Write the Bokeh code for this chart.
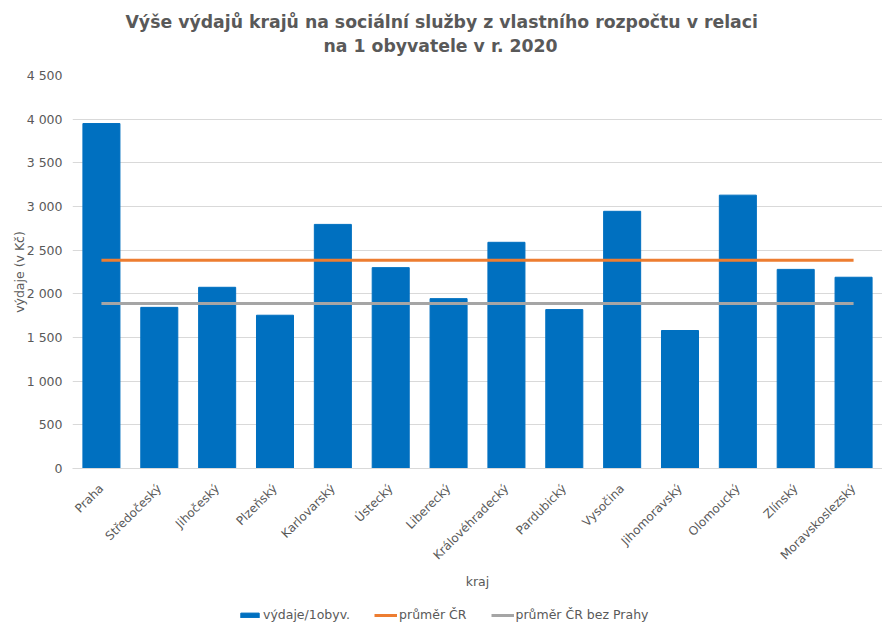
import math
from bokeh.plotting import figure
from bokeh.layouts import column
from bokeh.models import FixedTicker, Legend, LegendItem, ColumnDataSource, Title, Range1d
from bokeh.embed import file_html
from bokeh.resources import INLINE

kraje = ["Praha", "Středočeský", "Jihočeský", "Plzeňský", "Karlovarský", "Ústecký",
         "Liberecký", "Královéhradecký", "Pardubický", "Vysočina", "Jihomoravský",
         "Olomoucký", "Zlínský", "Moravskoslezský"]
vydaje = [3950, 1845, 2075, 1755, 2795, 2300, 1945, 2590, 1820, 2945, 1580, 3130, 2280, 2190]
prumer_cr = 2385
prumer_cr_bez_prahy = 1890
y_ticks = [0, 500, 1000, 1500, 2000, 2500, 3000, 3500, 4000, 4500]
y_tick_labels = ["0", "500", "1 000", "1 500", "2 000", "2 500", "3 000", "3 500", "4 000", "4 500"]
title_lines = ["Výše výdajů krajů na sociální služby z vlastního rozpočtu v relaci",
               "na 1 obyvatele v r. 2020"]
legend_labels = ["výdaje/1obyv.", "průměr ČR", "průměr ČR bez Prahy"]

FONT = "DejaVu Sans"
TXT = "#595959"
BLUE = "#0070C0"
ORANGE = "#ED7D31"
GREY = "#A5A5A5"

src = ColumnDataSource(dict(
    kraj=kraje,
    vydaje=vydaje,
    prumer=[prumer_cr] * len(kraje),
    prumer_bez=[prumer_cr_bez_prahy] * len(kraje),
))

LEG_H = 30
p = figure(x_range=kraje, y_range=(0, 4500), width=882, height=628 - LEG_H, title=None,
           output_backend="svg", toolbar_location=None,
           min_border_left=72, min_border_right=0, min_border_top=75,
           min_border_bottom=628 - LEG_H - 468)

# spacer between the frame and the title lines
p.add_layout(Title(text=" ", text_font_size="1px", standoff=16), "above")
# each title line is centred on the whole chart width (left-aligned + shift)
for text, standoff, shift in [(title_lines[1], 2, 251), (title_lines[0], 2, 53)]:
    t = Title(text=text, align="left", offset=shift, text_font=FONT, text_font_size="17.3px",
              text_font_style="bold", text_color=TXT, standoff=standoff)
    p.add_layout(t, "above")

p.vbar(x="kraj", top="vydaje", width=0.64, source=src, color=BLUE)
p.line(x="kraj", y="prumer", source=src, line_color=ORANGE, line_width=3)
p.line(x="kraj", y="prumer_bez", source=src, line_color=GREY, line_width=3)

p.x_range.range_padding = 0
p.outline_line_color = None
p.xgrid.grid_line_color = None
p.ygrid.grid_line_color = "#D9D9D9"
p.ygrid.grid_line_width = 1

p.yaxis.ticker = FixedTicker(ticks=y_ticks)
p.yaxis.major_label_overrides = {t: l for t, l in zip(y_ticks, y_tick_labels)}
p.yaxis.axis_line_color = None
p.yaxis.major_tick_line_color = None
p.yaxis.minor_tick_line_color = None
p.yaxis.major_label_text_font = FONT
p.yaxis.major_label_text_font_size = "12.5px"
p.yaxis.major_label_text_color = TXT
p.yaxis.major_label_standoff = 4
p.yaxis.axis_label = "výdaje (v Kč)"
p.yaxis.axis_label_text_font = FONT
p.yaxis.axis_label_text_font_size = "12.5px"
p.yaxis.axis_label_text_font_style = "normal"
p.yaxis.axis_label_text_color = TXT
p.yaxis.axis_label_standoff = -3

p.xaxis.axis_line_color = "#D9D9D9"
p.xaxis.major_tick_line_color = None
p.xaxis.minor_tick_line_color = None
p.xaxis.major_label_orientation = math.pi / 4
p.xaxis.major_label_text_font = FONT
p.xaxis.major_label_text_font_size = "12px"
p.xaxis.major_label_text_color = TXT
p.xaxis.major_label_standoff = 12
p.xaxis.axis_label = "kraj"
p.xaxis.axis_label_text_font = FONT
p.xaxis.axis_label_text_font_size = "12.5px"
p.xaxis.axis_label_text_font_style = "normal"
p.xaxis.axis_label_text_color = TXT
p.xaxis.axis_label_standoff = 4

# legend strip (its frame is aligned with the main frame, which starts at x=72)
lg = figure(width=882, height=LEG_H, x_range=Range1d(0, 810), y_range=Range1d(0, LEG_H),
            output_backend="svg", toolbar_location=None, title=None,
            min_border=0, min_border_left=72, min_border_right=0,
            min_border_top=0, min_border_bottom=0)
lg.axis.visible = False
lg.grid.visible = False
lg.outline_line_color = None
nan = float("nan")
dummy = ColumnDataSource(dict(x=[nan], y=[nan], top=[nan]))
r_bar = lg.vbar(x="x", top="top", width=1, source=dummy, color=BLUE)
r_l1 = lg.line(x="x", y="y", source=dummy, line_color=ORANGE, line_width=3)
r_l2 = lg.line(x="x", y="y", source=dummy, line_color=GREY, line_width=3)
legend = Legend(items=[
    LegendItem(label=legend_labels[0], renderers=[r_bar]),
    LegendItem(label=legend_labels[1], renderers=[r_l1]),
    LegendItem(label=legend_labels[2], renderers=[r_l2]),
], orientation="horizontal", location=(166, 6))
legend.label_text_font = FONT
legend.label_text_font_size = "12.5px"
legend.label_text_color = TXT
legend.border_line_color = None
legend.background_fill_alpha = 0
legend.glyph_width = 23
legend.glyph_height = 6
legend.label_standoff = 2
legend.spacing = 24
legend.padding = 0
legend.margin = 0
lg.add_layout(legend)

layout = column(p, lg, spacing=0)
open("out.html", "w").write(file_html(layout, INLINE))
